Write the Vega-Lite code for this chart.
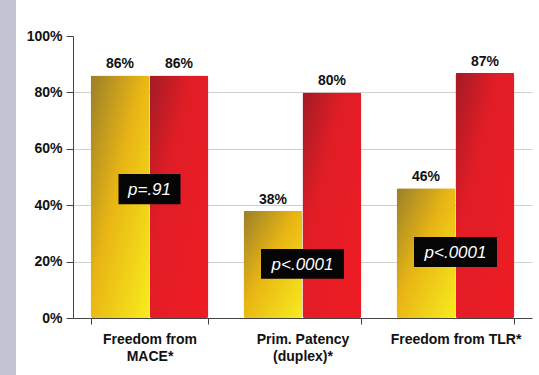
{
  "$schema": "https://vega.github.io/schema/vega-lite/v6.json",
  "width": 459,
  "height": 282,
  "autosize": {"type": "none"},
  "padding": {"left": 73, "top": 36, "right": 7, "bottom": 57},
  "background": "#c3c4d3",
  "datasets": {
    "bars": [
      {"group": "Freedom from MACE*", "arm": "A", "value": 86},
      {"group": "Freedom from MACE*", "arm": "B", "value": 86},
      {"group": "Prim. Patency (duplex)*", "arm": "A", "value": 38},
      {"group": "Prim. Patency (duplex)*", "arm": "B", "value": 80},
      {"group": "Freedom from TLR*", "arm": "A", "value": 46},
      {"group": "Freedom from TLR*", "arm": "B", "value": 87}
    ],
    "pvals": [
      {"group": "Freedom from MACE*", "p": "p=.91", "pos": 45.7},
      {"group": "Prim. Patency (duplex)*", "p": "p<.0001", "pos": 19.2},
      {"group": "Freedom from TLR*", "p": "p<.0001", "pos": 23.4}
    ]
  },
  "config": {
    "view": {"fill": "white", "stroke": "white", "strokeWidth": 114},
    "font": "Liberation Sans",
    "axis": {
      "labelFont": "Liberation Sans",
      "labelFontWeight": "bold",
      "labelFontSize": 14,
      "labelColor": "#111111",
      "domainColor": "#444444",
      "tickColor": "#444444",
      "title": null
    }
  },
  "encoding": {
    "x": {
      "field": "group",
      "type": "nominal",
      "sort": null,
      "scale": {"paddingInner": 0.23, "paddingOuter": 0.115},
      "axis": {
        "labelAngle": 0,
        "tickBand": "extent",
        "tickSize": 6,
        "labelPadding": 8,
        "labelLineHeight": 17,
        "labelBaseline": "top",
        "labelExpr": "datum.value == 'Freedom from MACE*' ? ['Freedom from', 'MACE*'] : datum.value == 'Prim. Patency (duplex)*' ? ['Prim. Patency', '(duplex)*'] : datum.value"
      }
    }
  },
  "layer": [
    {
      "data": {"name": "bars"},
      "mark": {"type": "bar", "color": "#000000", "opacity": 0.1, "xOffset": 3, "yOffset": 3, "cornerRadius": 3},
      "encoding": {
        "xOffset": {"field": "arm", "type": "nominal", "scale": {"domain": ["A", "B"], "paddingInner": 0, "paddingOuter": 0}},
        "y": {"field": "value", "type": "quantitative"}
      }
    },
    {
      "data": {"name": "bars"},
      "mark": {"type": "bar", "color": "#000000", "opacity": 0.1, "xOffset": 6, "yOffset": 5, "cornerRadius": 3},
      "encoding": {
        "xOffset": {"field": "arm", "type": "nominal", "scale": {"domain": ["A", "B"], "paddingInner": 0, "paddingOuter": 0}},
        "y": {"field": "value", "type": "quantitative"}
      }
    },
    {
      "data": {"name": "bars"},
      "mark": {"type": "bar", "cornerRadius": 2},
      "encoding": {
        "xOffset": {"field": "arm", "type": "nominal", "scale": {"domain": ["A", "B"], "paddingInner": 0, "paddingOuter": 0}},
        "y": {
          "field": "value",
          "type": "quantitative",
          "scale": {"domain": [0, 100]},
          "axis": {
            "values": [0, 20, 40, 60, 80, 100],
            "labelExpr": "datum.value + '%'",
            "tickSize": 7,
            "labelPadding": 4,
            "grid": true,
            "gridColor": "#cfcfcf",
            "gridOpacity": {"condition": {"test": "datum.value === 100 || datum.value === 0", "value": 0}, "value": 1}
          }
        },
        "fill": {
          "condition": {
            "test": "datum.arm === 'A'",
            "value": {
              "gradient": "linear", "x1": 0, "y1": 0, "x2": 1, "y2": 1,
              "stops": [
                {"offset": 0, "color": "#9a7f2a"},
                {"offset": 0.45, "color": "#e8b514"},
                {"offset": 1, "color": "#f8ec1e"}
              ]
            }
          },
          "value": {
            "gradient": "linear", "x1": 0, "y1": 0, "x2": 1, "y2": 1,
            "stops": [
              {"offset": 0, "color": "#a21b25"},
              {"offset": 0.35, "color": "#e01d26"},
              {"offset": 1, "color": "#ef1c24"}
            ]
          }
        }
      }
    },
    {
      "data": {"name": "bars"},
      "transform": [{"calculate": "format(datum.value, 'd') + '%'", "as": "label"}],
      "mark": {"type": "text", "fontWeight": "bold", "fontSize": 14, "baseline": "alphabetic", "dy": -7, "color": "#111111"},
      "encoding": {
        "xOffset": {"field": "arm", "type": "nominal", "scale": {"domain": ["A", "B"], "paddingInner": 0, "paddingOuter": 0}},
        "y": {"field": "value", "type": "quantitative"},
        "text": {"field": "label"},
        "detail": {"field": "arm"}
      }
    },
    {
      "data": {"name": "pvals"},
      "mark": {"type": "point", "filled": true, "color": "#050505", "opacity": 1},
      "encoding": {
        "y": {"field": "pos", "type": "quantitative"},
        "shape": {
          "condition": {"test": "datum.p === 'p=.91'", "value": "M-1,-0.484L1,-0.484L1,0.484L-1,0.484Z"},
          "value": "M-1,-0.361L1,-0.361L1,0.361L-1,0.361Z"
        },
        "size": {
          "condition": {"test": "datum.p === 'p=.91'", "value": 3844},
          "value": 6889
        }
      }
    },
    {
      "data": {"name": "pvals"},
      "mark": {"type": "text", "fontStyle": "italic", "fontSize": 17, "color": "white", "baseline": "middle", "dy": 1},
      "encoding": {
        "y": {"field": "pos", "type": "quantitative"},
        "text": {"field": "p"}
      }
    }
  ]
}
